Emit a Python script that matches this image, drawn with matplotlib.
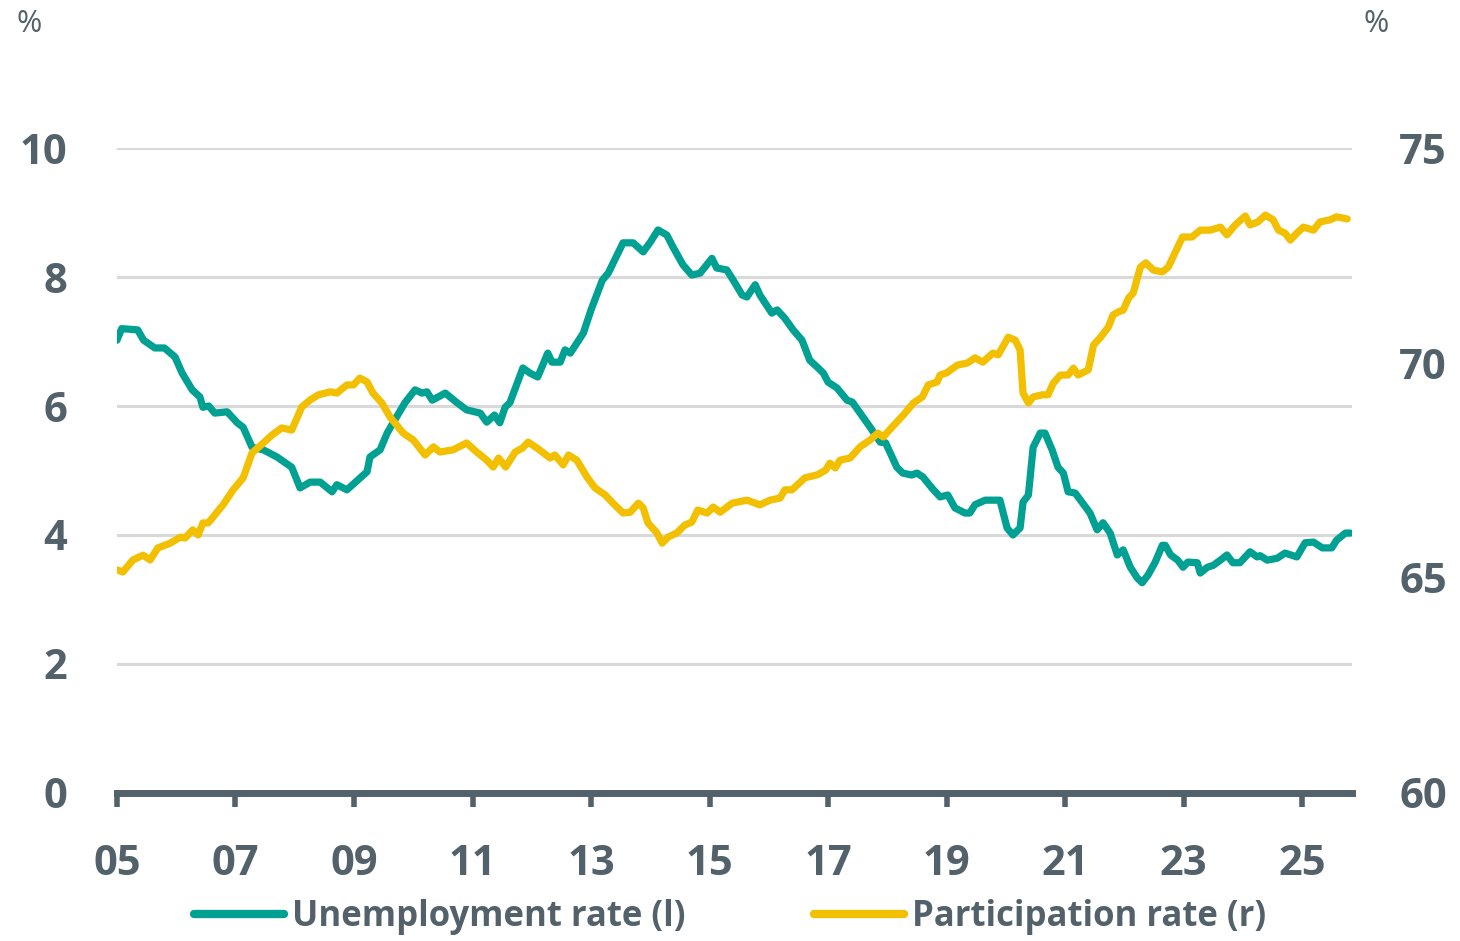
import numpy as np
import matplotlib.pyplot as plt

# Unemployment rate (l), %
unemp_t = [2005.0, 2005.08, 2005.35, 2005.45, 2005.64, 2005.8, 2005.98, 2006.1, 2006.27, 2006.4, 2006.45,
           2006.55, 2006.65, 2006.86, 2007.03, 2007.13, 2007.28, 2007.47, 2007.7, 2007.95, 2008.09, 2008.26,
           2008.43, 2008.63, 2008.71, 2008.88, 2009.1, 2009.22, 2009.27, 2009.44, 2009.56, 2009.66, 2009.86,
           2010.03, 2010.15, 2010.23, 2010.32, 2010.54, 2010.74, 2010.9, 2011.13, 2011.24, 2011.37, 2011.46,
           2011.55, 2011.63, 2011.85, 2011.97, 2012.1, 2012.27, 2012.34, 2012.48, 2012.56, 2012.65, 2012.87,
           2013.0, 2013.19, 2013.29, 2013.54, 2013.71, 2013.88, 2014.0, 2014.13, 2014.28, 2014.38, 2014.55,
           2014.7, 2014.84, 2015.04, 2015.12, 2015.29, 2015.4, 2015.55, 2015.63, 2015.77, 2015.85, 2016.05,
           2016.14, 2016.27, 2016.41, 2016.56, 2016.69, 2016.82, 2016.92, 2017.0, 2017.15, 2017.32, 2017.41,
           2017.54, 2017.71, 2017.88, 2017.97, 2018.16, 2018.26, 2018.41, 2018.5, 2018.6, 2018.75, 2018.89,
           2019.02, 2019.14, 2019.31, 2019.39, 2019.48, 2019.65, 2019.85, 2019.9, 2020.02, 2020.12, 2020.24,
           2020.29, 2020.38, 2020.46, 2020.58, 2020.66, 2020.78, 2020.88, 2020.97, 2021.05, 2021.17, 2021.29,
           2021.42, 2021.54, 2021.64, 2021.76, 2021.88, 2021.98, 2022.1, 2022.22, 2022.3, 2022.4, 2022.52,
           2022.64, 2022.69, 2022.78, 2022.9, 2022.99, 2023.07, 2023.23, 2023.28, 2023.4, 2023.5, 2023.62,
           2023.73, 2023.83, 2023.95, 2024.12, 2024.24, 2024.29, 2024.41, 2024.58, 2024.71, 2024.91, 2025.05,
           2025.19, 2025.34, 2025.5, 2025.58, 2025.73, 2025.81]
unemp_v = [7.02, 7.2, 7.18, 7.02, 6.9, 6.9, 6.76, 6.51, 6.25, 6.14, 5.98,
           6.0, 5.89, 5.91, 5.74, 5.67, 5.36, 5.32, 5.21, 5.05, 4.73, 4.82,
           4.82, 4.67, 4.78, 4.7, 4.88, 4.98, 5.21, 5.32, 5.58, 5.74, 6.05,
           6.25, 6.2, 6.22, 6.09, 6.2, 6.05, 5.94, 5.89, 5.75, 5.86, 5.74,
           5.98, 6.05, 6.59, 6.51, 6.45, 6.82, 6.68, 6.68, 6.87, 6.82, 7.13,
           7.49, 7.95, 8.06, 8.53, 8.53, 8.39, 8.54, 8.73, 8.65, 8.47, 8.19,
           8.03, 8.06, 8.29, 8.14, 8.11, 7.95, 7.72, 7.69, 7.88, 7.72, 7.44,
           7.49, 7.36, 7.18, 7.02, 6.71, 6.6, 6.51, 6.37, 6.28, 6.09, 6.06,
           5.89, 5.67, 5.44, 5.43, 5.05, 4.96, 4.93, 4.96, 4.9, 4.73, 4.59,
           4.62, 4.42, 4.34, 4.34, 4.47, 4.54, 4.54, 4.54, 4.11, 4.0, 4.11,
           4.51, 4.62, 5.36, 5.58, 5.58, 5.32, 5.05, 4.96, 4.67, 4.65, 4.5,
           4.34, 4.08, 4.19, 4.03, 3.69, 3.77, 3.5, 3.33, 3.26, 3.38, 3.58,
           3.84, 3.84, 3.69, 3.61, 3.5, 3.58, 3.57, 3.41, 3.5, 3.53, 3.61,
           3.69, 3.57, 3.57, 3.74, 3.66, 3.68, 3.61, 3.64, 3.72, 3.66, 3.88,
           3.89, 3.8, 3.8, 3.92, 4.03, 4.03]

# Participation rate (r), %
part_t = [2005.0, 2005.1, 2005.27, 2005.44, 2005.56, 2005.69, 2005.9, 2006.07, 2006.15, 2006.28, 2006.37,
          2006.45, 2006.54, 2006.79, 2006.96, 2007.13, 2007.28, 2007.47, 2007.62, 2007.78, 2007.95, 2008.12,
          2008.26, 2008.4, 2008.6, 2008.71, 2008.88, 2008.99, 2009.1, 2009.22, 2009.32, 2009.47, 2009.61,
          2009.83, 2010.0, 2010.2, 2010.34, 2010.45, 2010.67, 2010.9, 2011.07, 2011.24, 2011.35, 2011.44,
          2011.56, 2011.72, 2011.84, 2011.94, 2012.09, 2012.31, 2012.39, 2012.53, 2012.62, 2012.76, 2012.93,
          2013.07, 2013.24, 2013.37, 2013.54, 2013.66, 2013.8, 2013.88, 2013.96, 2014.11, 2014.2, 2014.3,
          2014.45, 2014.58, 2014.7, 2014.8, 2014.96, 2015.06, 2015.18, 2015.38, 2015.63, 2015.85, 2016.02,
          2016.19, 2016.27, 2016.39, 2016.61, 2016.82, 2016.96, 2017.03, 2017.12, 2017.2, 2017.37, 2017.54,
          2017.71, 2017.84, 2017.93, 2018.08, 2018.27, 2018.44, 2018.59, 2018.69, 2018.84, 2018.89, 2019.0,
          2019.18, 2019.35, 2019.48, 2019.61, 2019.78, 2019.87, 2020.04, 2020.16, 2020.24, 2020.29, 2020.38,
          2020.46, 2020.61, 2020.71, 2020.8, 2020.92, 2021.05, 2021.14, 2021.22, 2021.39, 2021.48, 2021.6,
          2021.73, 2021.81, 2021.9, 2021.98, 2022.07, 2022.15, 2022.27, 2022.36, 2022.49, 2022.64, 2022.74,
          2022.86, 2022.98, 2023.14, 2023.28, 2023.45, 2023.62, 2023.73, 2023.87, 2024.04, 2024.12, 2024.25,
          2024.38, 2024.51, 2024.6, 2024.71, 2024.8, 2024.91, 2025.02, 2025.19, 2025.3, 2025.47, 2025.58,
          2025.76]
part_v = [65.19, 65.14, 65.42, 65.53, 65.42, 65.7, 65.81, 65.95, 65.93, 66.12, 66.0,
          66.28, 66.28, 66.7, 67.05, 67.33, 67.91, 68.14, 68.33, 68.49, 68.44, 68.98,
          69.14, 69.26, 69.33, 69.3, 69.49, 69.49, 69.65, 69.56, 69.3, 69.07, 68.74,
          68.37, 68.21, 67.86, 68.05, 67.93, 67.98, 68.14, 67.93, 67.74, 67.58, 67.79,
          67.58, 67.93, 68.02, 68.16, 68.02, 67.79, 67.86, 67.63, 67.86, 67.74, 67.35,
          67.09, 66.93, 66.74, 66.51, 66.53, 66.74, 66.63, 66.28, 66.05, 65.81, 65.95,
          66.05, 66.23, 66.3, 66.58, 66.51, 66.65, 66.53, 66.74, 66.81, 66.7, 66.81,
          66.86, 67.05, 67.05, 67.33, 67.4, 67.51, 67.67, 67.56, 67.74, 67.79, 68.05,
          68.21, 68.37, 68.28, 68.51, 68.79, 69.07, 69.21, 69.49, 69.56, 69.72, 69.77,
          69.95, 70.0, 70.12, 70.02, 70.23, 70.19, 70.6, 70.53, 70.3, 69.3, 69.07,
          69.21, 69.26, 69.26, 69.53, 69.72, 69.72, 69.88, 69.72, 69.84, 70.42, 70.6,
          70.84, 71.12, 71.19, 71.23, 71.51, 71.63, 72.23, 72.33, 72.16, 72.12, 72.23,
          72.58, 72.93, 72.93, 73.09, 73.09, 73.16, 72.98, 73.21, 73.42, 73.21, 73.28,
          73.44, 73.33, 73.09, 73.02, 72.86, 73.02, 73.16, 73.09, 73.28, 73.33, 73.4,
          73.35]

years = list(range(2005, 2026, 2))
year_labels = [f"{y % 100:02d}" for y in years]

teal = "#00a092"
gold = "#f2c000"
txt = "#53616a"

plt.rcParams['font.family'] = ['Open Sans', 'DejaVu Sans']

fig = plt.figure(figsize=(14.6, 9.41), dpi=100)
ax = fig.add_axes([0.0801, 0.1573, 0.8459, 0.6854])
ax2 = ax.twinx()

ax.set_xlim(2005, 2025.84)
ax.set_ylim(0, 10)
ax2.set_ylim(60, 75)

for y in [2, 4, 6, 8, 10]:
    ax.axhline(y, color="#d9d9d9", lw=2.2, zorder=0)

l1, = ax.plot(unemp_t, unemp_v, color=teal, lw=5.2, solid_joinstyle='round',
              solid_capstyle='round', label="Unemployment rate (l)", zorder=3)
l2, = ax2.plot(part_t, part_v, color=gold, lw=5.2, solid_joinstyle='round',
               solid_capstyle='round', label="Participation rate (r)", zorder=3)

for a in (ax, ax2):
    for s in ['top', 'left', 'right', 'bottom']:
        a.spines[s].set_visible(False)
ax.spines['bottom'].set_visible(True)
ax.spines['bottom'].set_color(txt)
ax.spines['bottom'].set_linewidth(5)
ax.spines['bottom'].set_capstyle('projecting')
ax.spines['bottom'].set_zorder(4)

ax.set_xticks(years)
ax.set_xticklabels(year_labels)
ax.tick_params(axis='x', direction='out', length=10, width=4, color=txt, pad=27,
               labelsize=30, labelcolor=txt)
ax.set_yticks([0, 2, 4, 6, 8, 10])
ax.tick_params(axis='y', length=0, pad=36, labelsize=30, labelcolor=txt)
ax2.set_yticks([60, 65, 70, 75])
ax2.tick_params(axis='y', length=0, pad=34, labelsize=30, labelcolor=txt)
for lab in ax.get_xticklabels() + ax.get_yticklabels() + ax2.get_yticklabels():
    lab.set_fontweight('bold')

fig.text(0.011, 0.975, "%", fontsize=22, color=txt, ha='left', va='center')
fig.text(0.934, 0.975, "%", fontsize=22, color=txt, ha='left', va='center')

leg = fig.legend(handles=[l1, l2], loc='lower center', bbox_to_anchor=(0.5, -0.027), ncol=2,
                 frameon=False, handlelength=2.6, handletextpad=0.22,
                 columnspacing=3.7, prop={'weight': 'bold', 'size': 25})
for t in leg.get_texts():
    t.set_color(txt)
for h in leg.get_lines():
    h.set_linewidth(6)

fig.savefig("out.png", dpi=100)
